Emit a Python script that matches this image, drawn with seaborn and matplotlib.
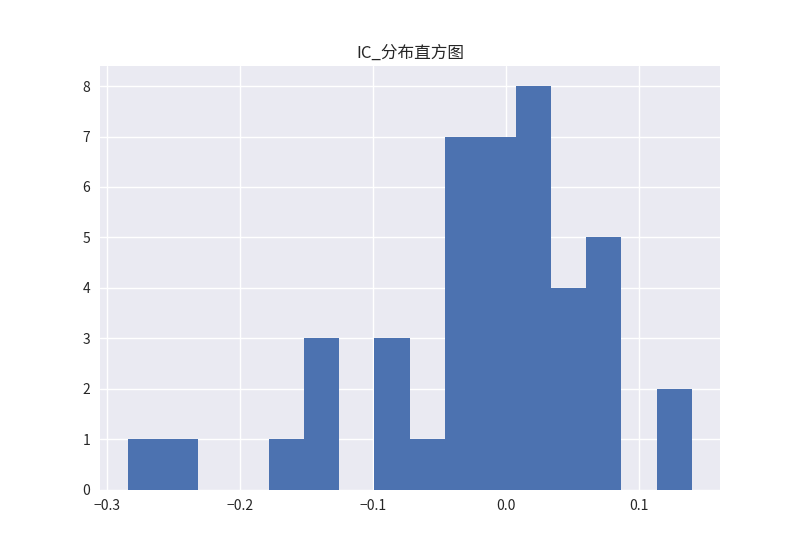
import numpy as np
import pandas as pd
import matplotlib
matplotlib.use('Agg')
import matplotlib.pyplot as plt
import seaborn as sns

# histogram bins (16 equal bins)
bin_start = -0.2842
bin_end = 0.1398
counts = [1, 1, 0, 0, 1, 3, 0, 3, 1, 7, 7, 8, 4, 5, 0, 2]

edges = np.linspace(bin_start, bin_end, len(counts) + 1)
centers = (edges[:-1] + edges[1:]) / 2
df = pd.DataFrame({'ic': centers, 'n': counts})

plt.style.use('seaborn-v0_8')
plt.rcParams['font.family'] = ['Noto Sans CJK SC', 'DejaVu Sans']
plt.rcParams['axes.unicode_minus'] = True

fig, ax = plt.subplots(figsize=(8, 5.5), dpi=100)
sns.histplot(data=df, x='ic', weights='n', bins=len(counts),
             binrange=(bin_start, bin_end), ax=ax,
             color='#4C72B0', alpha=1, edgecolor='none', linewidth=0)
ax.set_title('IC_分布直方图', fontsize=12)
ax.set_xlabel('')
ax.set_ylabel('')
ax.set_xticks([-0.3, -0.2, -0.1, 0.0, 0.1])
ax.set_xlim(-0.305, 0.161)
ax.set_ylim(0, 8.4)
plt.savefig('out.png')
